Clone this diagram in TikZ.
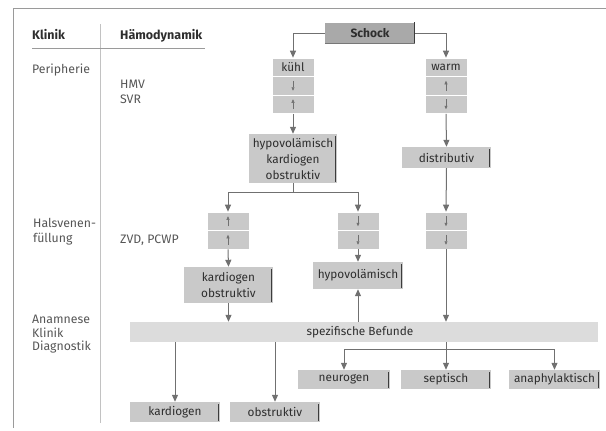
\documentclass[tikz,border=0pt]{standalone}
\usepackage{fontspec}
\setmainfont{Fira Sans}
\usetikzlibrary{arrows.meta}
\definecolor{boxgray}{HTML}{C9C9C9}
\definecolor{darkbox}{HTML}{A9A9A9}
\definecolor{bandgray}{HTML}{DCDCDC}
\definecolor{arrgray}{HTML}{707070}
\definecolor{txt}{HTML}{2E2E2E}
\definecolor{sidetxt}{HTML}{555555}
\definecolor{framegray}{HTML}{9A9A9A}
\definecolor{bargray}{HTML}{3C3C3C}
\tikzset{
  box/.style={fill=boxgray, inner sep=0pt, text=txt, align=center,
    font=\fontsize{11.8}{16}\selectfont, minimum height=#1},
  box/.default=20pt,
  barbox/.style={box=#1, path picture={
    \draw[bargray, line width=1.6pt]
      ([xshift=-1.5pt,yshift=-2pt]path picture bounding box.north east) --
      ([xshift=-1.5pt,yshift=1pt]path picture bounding box.south east);}},
  barbox/.default=20pt,
  cell/.style={fill=boxgray, draw=white, line width=0.6pt, inner sep=0pt,
    minimum width=42pt, minimum height=18.5pt, text=txt,
    font=\fontsize{11.8}{16}\selectfont},
  arr/.style={draw=arrgray, line width=1pt, -{Triangle[length=7pt,width=6pt]}},
  line/.style={draw=arrgray, line width=1pt},
  tiny/.style={draw=arrgray, line width=0.5pt, -{Triangle[length=3.5pt,width=3pt]}},
  side/.style={anchor=base west, text=sidetxt, font=\fontsize{12.3}{14}\selectfont, inner sep=0pt},
  head/.style={anchor=base west, text=txt, font=\fontsize{12.5}{14}\selectfont\bfseries, inner sep=0pt},
}
\begin{document}
\begin{tikzpicture}[x=1pt, y=-1pt]
\useasboundingbox (0,0) rectangle (606,431);

% page frame and table rules
\draw[framegray, line width=0.8pt] (606,8) -- (13,8) -- (13,428);
\draw[framegray!60, line width=0.6pt] (100,24) -- (100,423);
\draw[framegray, line width=0.6pt] (32,48) -- (205,48);

% left column labels
\node[head] (hklinik) at (32,39) {Klinik};
\node[head] (hhaemo) at (120,39) {Hämodynamik};
\node[side] (peri) at (32,74) {Peripherie};
\node[side] (hmv) at (120,88) {HMV};
\node[side] (svr) at (120,103) {SVR};
\node[side] (hals1) at (33,227) {Halsvenen-};
\node[side] (hals2) at (33,242) {füllung};
\node[side] (zvd) at (120,243) {ZVD, PCWP};
\node[side] (anam) at (32,323) {Anamnese};
\node[side] (klin) at (32,337) {Klinik};
\node[side] (diag) at (32,350) {Diagnostik};

% top node
\node[fill=darkbox, inner sep=0pt, minimum width=90pt, minimum height=21pt,
      text=txt, font=\fontsize{12}{16}\selectfont\bfseries] (schock) at (370,33) {Schock};
\draw[bargray, line width=1.6pt] ([xshift=-0.8pt]schock.north east) -- ([xshift=-0.8pt]schock.south east);
\draw[bargray!70, line width=0.8pt] (schock.south west) -- (schock.south east);

% kuehl stack
\node[cell] (k1) at (293,67.25) {kühl};
\node[cell] (k2) at (293,85.75) {};
\node[cell] (k3) at (293,104.25) {};
\draw[tiny] ([yshift=5pt]k2.center) -- ([yshift=-5pt]k2.center);
\draw[tiny] ([yshift=-5pt]k3.center) -- ([yshift=5pt]k3.center);

% warm stack
\node[cell] (w1) at (446,67.25) {warm};
\node[cell] (w2) at (446,85.75) {};
\node[cell] (w3) at (446,104.25) {};
\draw[tiny] ([yshift=-5pt]w2.center) -- ([yshift=5pt]w2.center);
\draw[tiny] ([yshift=5pt]w3.center) -- ([yshift=-5pt]w3.center);

% second level
\node[barbox=49pt, minimum width=88pt] (hyp) at (293,158.5) {hypovolämisch\\kardiogen\\obstruktiv};
\node[barbox=21pt, minimum width=89pt] (dist) at (446.5,157.5) {distributiv};

% filling stacks
\node[cell] (l1) at (228,221.25) {};
\node[cell] (l2) at (228,239.75) {};
\draw[tiny] ([yshift=-5pt]l1.center) -- ([yshift=5pt]l1.center);
\draw[tiny] ([yshift=-5pt]l2.center) -- ([yshift=5pt]l2.center);
\node[cell] (m1) at (358,221.25) {};
\node[cell] (m2) at (358,239.75) {};
\draw[tiny] ([yshift=5pt]m1.center) -- ([yshift=-5pt]m1.center);
\draw[tiny] ([yshift=5pt]m2.center) -- ([yshift=-5pt]m2.center);
\node[cell] (r1) at (446,221.25) {};
\node[cell] (r2) at (446,239.75) {};
\draw[tiny] ([yshift=5pt]r1.center) -- ([yshift=-5pt]r1.center);
\draw[tiny] ([yshift=5pt]r2.center) -- ([yshift=-5pt]r2.center);

% third level
\node[barbox=36pt, minimum width=89pt] (ko) at (228.5,285) {kardiogen\\obstruktiv};
\node[barbox=27pt, minimum width=90pt] (hyp2) at (358,275.5) {hypovolämisch};

% band
\node[fill=bandgray, inner sep=0pt, minimum width=468pt, minimum height=20pt] (spez) at (364,332) {};
\node[text=txt, font=\fontsize{11.8}{16}\selectfont, inner sep=0pt] (spezt) at (360,332) {spezifische Befunde};

% final diagnoses
\node[barbox=19pt, minimum width=92pt] (neuro) at (344,379.5) {neurogen};
\node[barbox=19pt, minimum width=90pt] (sept) at (446,379.5) {septisch};
\node[barbox=19pt, minimum width=91pt] (ana) at (554.5,379.5) {anaphylaktisch};
\node[barbox=20pt, minimum width=90pt] (kard) at (175,412) {kardiogen};
\node[barbox=20pt, minimum width=90pt] (obst) at (275,412) {obstruktiv};

% connectors
\draw[arr] (schock.west) -| (k1.north);
\draw[arr] (schock.east) -| (w1.north);
\draw[arr] (k3.south) -- (hyp.north);
\draw[arr] (w3.south) -- (dist.north);
\coordinate (br1) at (293,192);
\draw[line] (hyp.south) -- (br1);
\draw[arr] (br1) -| (l1.north);
\draw[arr] (br1) -| (m1.north);
\draw[arr] (dist.south) -- (r1.north);
\draw[arr] (l2.south) -- (ko.north);
\draw[arr] (m2.south) -- (hyp2.north);
\draw[arr] (ko.south) -- (ko.south |- spez.north);
\draw[arr] (hyp2.south |- spez.north) -- (hyp2.south);
\draw[arr] (r2.south) -- (r2.south |- spez.north);
\draw[arr] (kard.north |- spez.south) -- (kard.north);
\draw[arr] (obst.north |- spez.south) -- (obst.north);
\coordinate (br2) at (446,349);
\draw[line] (sept.north |- spez.south) -- (br2);
\draw[arr] (br2) -- (sept.north);
\draw[arr] (br2) -| (neuro.north);
\draw[arr] (br2) -| (ana.north);
\end{tikzpicture}
\end{document}
